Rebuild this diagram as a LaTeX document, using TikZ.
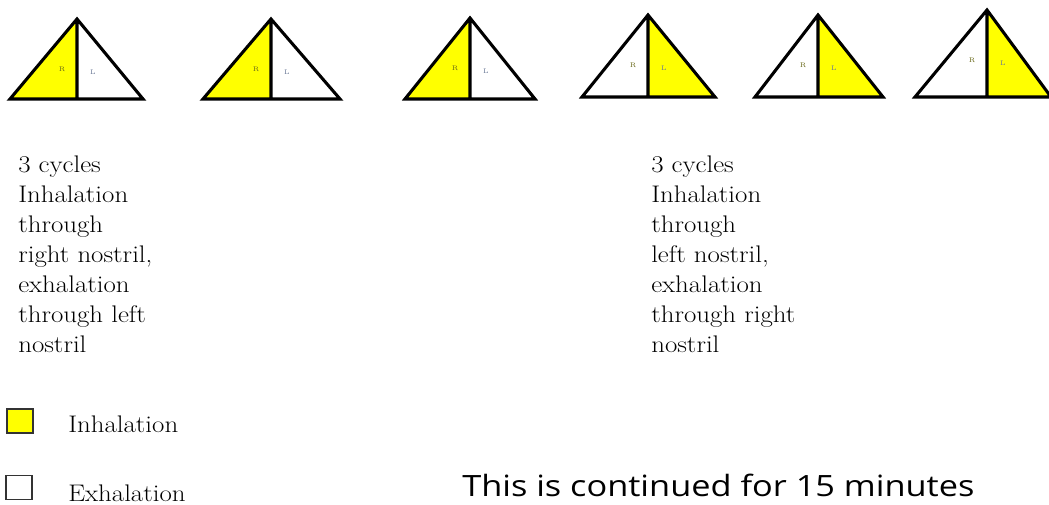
\documentclass[tikz,border=0pt]{standalone}
\usepackage{fontspec}
\newfontfamily\notefont[FakeStretch=1.17]{Open Sans}
\newfontfamily\bodyfont[FakeStretch=1.12]{Latin Modern Roman}
\definecolor{inhale}{RGB}{255,255,0}
\definecolor{rlabel}{RGB}{105,105,25}
\definecolor{llabel}{RGB}{105,120,150}

\begin{document}
\begin{tikzpicture}[
  x=0.75pt, y=-0.75pt,
  nostril/.style={draw=black, line width=2.3pt, line join=miter},
  side/.style={font=\fontsize{5}{6}\selectfont, inner sep=0pt},
  desc/.style={font=\bodyfont\fontsize{18}{22.5}\selectfont, align=left, inner sep=0pt, anchor=north west},
  keytext/.style={font=\bodyfont\fontsize{18}{22.5}\selectfont, inner sep=0pt, anchor=base west},
  key/.style={draw=black!80, line width=1.1pt, minimum width=19.5pt, minimum height=18pt, inner sep=0pt}
]
  \useasboundingbox (0,0) rectangle (1049,505);

  \foreach \i/\ax/\ay/\bl/\br/\by/\rf/\lf in {
      1/77/19/10/143/99/inhale/white,
      2/271/19/203/340/99/inhale/white,
      3/470/18/405/535/99/inhale/white,
      4/648/15/582/715/97/white/inhale,
      5/818/15/755/883/97/white/inhale,
      6/987/10/915/1051/97/white/inhale}{
    \coordinate (apex\i) at (\ax,\ay);
    \coordinate (left\i) at (\bl,\by);
    \coordinate (right\i) at (\br,\by);
    \coordinate (mid\i) at (\ax,\by);
    \fill[\rf] (apex\i) -- (left\i) -- (mid\i) -- cycle;
    \fill[\lf] (apex\i) -- (mid\i) -- (right\i) -- cycle;
    \draw[nostril] (apex\i) -- (left\i) -- (right\i) -- cycle (apex\i) -- (mid\i);
    \node[side, text=rlabel] (r\i) at (\ax-15,\ay+50) {R};
    \node[side, text=llabel] (l\i) at (\ax+16,\ay+53) {L};
  }

  \node[desc] (rightfirst) at (18,156) {3 cycles\\Inhalation\\through\\right nostril,\\exhalation\\through left\\nostril};
  \node[desc] (leftfirst) at (651,156) {3 cycles\\Inhalation\\through\\left nostril,\\exhalation\\through right\\nostril};

  \node[key, fill=inhale] (inkey) at (20,421) {};
  \node[key, fill=white] (exkey) at (19,487.5) {};
  \node[keytext] (intext) at (68,433) {Inhalation};
  \node[keytext] (extext) at (68,502) {Exhalation};

  \node[font=\notefont\fontsize{22}{26}\selectfont, inner sep=0pt, anchor=base west] (note) at (462,497) {This is continued for 15 minutes};
\end{tikzpicture}
\end{document}
